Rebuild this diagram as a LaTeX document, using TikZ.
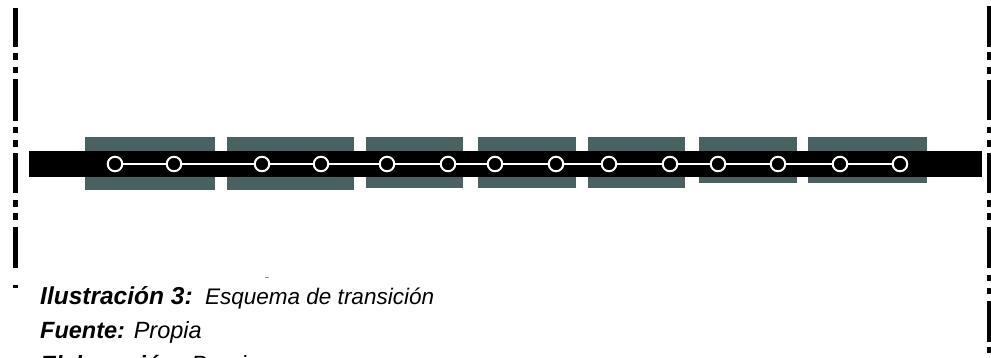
\documentclass[tikz,border=0pt]{standalone}
\usepackage{fontspec}
\setmainfont{Liberation Sans}
\definecolor{slab}{RGB}{74,97,97}
\definecolor{straygrey}{RGB}{150,150,150}
\begin{document}
\begin{tikzpicture}[x=1pt,y=-1pt,
  slabbox/.style={fill=slab,draw=none},
  barbox/.style={fill=black,draw=none},
  dashseg/.style={fill=black,draw=none},
  pin/.style={circle,draw=white,fill=black,line width=2pt,minimum size=14.5pt,inner sep=0pt},
  link/.style={white,line width=2pt},
  captext/.style={anchor=base west,inner sep=0pt,font=\fontsize{23.5pt}{28pt}\selectfont}]
\useasboundingbox (0,0) rectangle (991,358);
\clip (0,0) rectangle (991,358);
% left dash-dot line
\foreach \a/\b in {8/47,53/60,67/73,79/121,127/133,140/147,153/193,200/207,213/220,227/268,285/288}
  \fill[dashseg] (13,\a) rectangle (18,\b);
% right dash-dot line
\foreach \a/\b in {6/47,52/60,67/74,80/120,127/133,140/147,153/193,200/207,213/220,227/268,275/281,288/294,301/342,347/353}
  \fill[dashseg] (987,\a) rectangle (992,\b);
% slabs
\node[slabbox,minimum width=130pt,minimum height=53pt,inner sep=0pt,anchor=north west] (s1) at (85,137) {};
\node[slabbox,minimum width=127pt,minimum height=53pt,inner sep=0pt,anchor=north west] (s2) at (227,137) {};
\node[slabbox,minimum width=97pt,minimum height=51pt,inner sep=0pt,anchor=north west] (s3) at (366,137) {};
\node[slabbox,minimum width=98pt,minimum height=51pt,inner sep=0pt,anchor=north west] (s4) at (478,137) {};
\node[slabbox,minimum width=97pt,minimum height=51pt,inner sep=0pt,anchor=north west] (s5) at (588,137) {};
\node[slabbox,minimum width=98pt,minimum height=46pt,inner sep=0pt,anchor=north west] (s6) at (699,137) {};
\node[slabbox,minimum width=119pt,minimum height=46pt,inner sep=0pt,anchor=north west] (s7) at (808,137) {};
% bar
\node[barbox,minimum width=953pt,minimum height=26pt,inner sep=0pt,anchor=north west] (bar) at (29,151) {};
% pins
\foreach \i/\x in {1/115,2/174,3/262,4/321,5/387,6/448,7/495,8/556,9/609,10/670,11/718,12/778,13/840,14/900}
  \node[pin] (c\i) at (\x,164) {};
\foreach \i [evaluate=\i as \j using int(\i+1)] in {1,...,13}
  \draw[link] (c\i) -- (c\j);
% stray mark
\draw[straygrey,line width=1pt] (265,278) -- (269,278);
% caption
\node[captext,font=\fontsize{24.5pt}{28pt}\selectfont] (t1) at (40,304) {\textbf{\textit{Ilustración 3:}}};
\node[captext,font=\fontsize{22.5pt}{26pt}\selectfont] (t1b) at (205,304) {\textit{Esquema de transición}};
\node[captext] (t2) at (40,338) {\textbf{\textit{Fuente:}} \textit{Propia}};
\node[captext] (t3) at (40,372) {\textbf{\textit{Elaboración:}} \textit{Propia}};
\end{tikzpicture}
\end{document}
